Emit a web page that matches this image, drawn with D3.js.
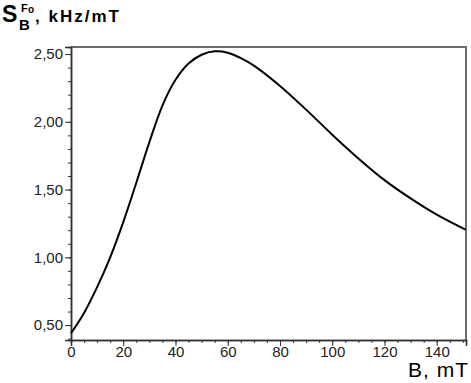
<!DOCTYPE html>
<html>
<head>
<meta charset="utf-8">
<script src="https://cdn.jsdelivr.net/npm/d3@7"></script>
<style>
  body { margin: 0; background: #fff; }
  svg { display: block; font-family: Arial, "Liberation Sans", sans-serif; }
</style>
</head>
<body>
<svg id="chart" width="471" height="383"></svg>
<script>
// curve
const fieldB = [0, 5, 10, 15, 20, 25, 30, 35, 40, 45, 50, 55, 60, 65, 70, 80, 90, 100, 110, 120, 130, 140, 151];
const sensitivity = [0.44, 0.59, 0.78, 1.00, 1.26, 1.55, 1.85, 2.12, 2.31, 2.43, 2.495, 2.52, 2.51, 2.47, 2.415, 2.265, 2.09, 1.905, 1.73, 1.57, 1.435, 1.315, 1.205];
const xTicks = [0, 20, 40, 60, 80, 100, 120, 140];
const yTicks = [0.5, 1.0, 1.5, 2.0, 2.5];

const margin = { left: 71, top: 47, right: 5, bottom: 43 };
const width = 471, height = 383;

const svg = d3.select('#chart');

const x = d3.scaleLinear()
    .domain([0, 151.2])
    .range([margin.left, width - margin.right]);

const y = d3.scaleLinear()
    .domain([0.39, 2.552])
    .range([height - margin.bottom, margin.top]);

const fmt = d => d3.format('.2f')(d).replace('.', ',');

// frame: top and right
svg.append('path')
    .attr('d', 'M' + x.range()[0] + ',' + y.range()[1] + 'H' + x.range()[1] + 'V' + y.range()[0])
    .attr('fill', 'none')
    .attr('stroke', '#6b6b6b')
    .attr('stroke-width', 2);

// y axis
let yAxis = svg.append('g')
    .attr('transform', 'translate(' + x.range()[0] + ',0)');
yAxis.call(d3.axisLeft(y).tickValues(d3.range(0.4, 2.55, 0.1)).tickSize(3).tickFormat(''));
yAxis.call(g => g.append('g').call(d3.axisLeft(y).tickValues(yTicks).tickSize(6).tickFormat(fmt)));
yAxis.selectAll('.domain').attr('stroke', '#333').attr('stroke-width', 1.5);
yAxis.selectAll('line').attr('stroke', '#333');
yAxis.selectAll('text').attr('font-size', 15).attr('fill', '#222').attr('x', -8);

// x axis
let xAxis = svg.append('g')
    .attr('transform', 'translate(0,' + y.range()[0] + ')');
xAxis.call(d3.axisBottom(x).tickValues(d3.range(0, 151, 5)).tickSize(3).tickFormat(''));
xAxis.call(g => g.append('g').call(d3.axisBottom(x).tickValues(xTicks).tickSize(6).tickFormat(d3.format('d'))));
xAxis.selectAll('.domain').attr('stroke', '#333').attr('stroke-width', 1.5);
xAxis.selectAll('line').attr('stroke', '#333');
xAxis.selectAll('text').attr('font-size', 15).attr('fill', '#222').attr('y', 6);

// curve
const line = d3.line()
    .x((d, i) => x(fieldB[i]))
    .y(d => y(d))
    .curve(d3.curveCatmullRom.alpha(0.5));

svg.append('path')
    .datum(sensitivity)
    .attr('d', line)
    .attr('fill', 'none')
    .attr('stroke', '#000')
    .attr('stroke-width', 2);

// axis titles
let title = svg.append('g').attr('font-weight', 'bold').attr('fill', '#000');
title.append('text').attr('x', 2).attr('y', 22).attr('font-size', 23).text('S');
title.append('text').attr('x', 19).attr('y', 30).attr('font-size', 15).text('B');
title.append('text').attr('x', 21).attr('y', 12).attr('font-size', 11).text('F');
title.append('text').attr('x', 28).attr('y', 13).attr('font-size', 10).text('o');
title.append('text').attr('x', 35).attr('y', 22).attr('font-size', 17)
    .attr('letter-spacing', 2).text(', kHz/mT');

svg.append('text')
    .attr('x', 469).attr('y', 377)
    .attr('text-anchor', 'end')
    .attr('font-size', 21)
    .attr('letter-spacing', 1)
    .text('B, mT');
</script>
</body>
</html>
